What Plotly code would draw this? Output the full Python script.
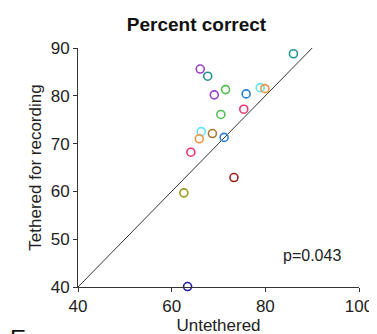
import plotly.graph_objects as go

untethered = [86.0, 66.1, 67.7, 71.5, 69.1, 75.9, 78.9, 79.9, 75.4, 70.5, 66.3, 65.9, 68.7, 71.2, 64.1, 62.6, 73.3, 63.4]
tethered   = [88.8, 85.6, 84.1, 81.3, 80.2, 80.4, 81.7, 81.5, 77.2, 76.1, 72.5, 71.0, 72.1, 71.3, 68.2, 59.7, 62.9, 40.1]
colors = ["#229999", "#9b3fc6", "#1f8f8f", "#4fbf4f", "#9b3fc6", "#2a80d8", "#5fe6f0", "#f5903f",
          "#e8356a", "#4fbf4f", "#5fe6f0", "#f5903f", "#a8742e", "#2a80d8", "#e8356a", "#9a9a1e",
          "#a01c1c", "#1c1ca0"]
x_ticks = [40, 60, 80, 100]
y_ticks = [40, 50, 60, 70, 80, 90]
unity = [40, 90]

FONT = "Liberation Sans, Arial, sans-serif"

fig = go.Figure()
fig.add_trace(go.Scatter(x=unity, y=unity, mode="lines",
                         line=dict(color="#333333", width=1), hoverinfo="skip", showlegend=False))
fig.add_trace(go.Scatter(x=untethered, y=tethered, mode="markers",
                         marker=dict(symbol="circle-open", size=8, color=colors, line=dict(width=1.6)),
                         cliponaxis=False, showlegend=False))

fig.update_layout(
    width=377, height=334,
    margin=dict(l=70, r=17, t=40, b=54),
    paper_bgcolor="white", plot_bgcolor="white",
    font=dict(family=FONT, size=17, color="#222222"),
    title=dict(text="<b>Percent correct</b>", x=0.5, xanchor="center", y=1 - 16/334, yanchor="middle",
               font=dict(family=FONT, size=19, color="#111111")),
    xaxis=dict(range=[40, 100], tickvals=x_ticks, ticks="outside", ticklen=4, tickcolor="#333333",
               showline=True, linecolor="#333333", linewidth=1, showgrid=False, zeroline=False,
               title=dict(text="Untethered", standoff=2, font=dict(size=17)), tickfont=dict(size=17)),
    yaxis=dict(range=[40, 90], tickvals=y_ticks, ticks="outside", ticklen=4, tickcolor="#333333",
               showline=True, linecolor="#333333", linewidth=1, showgrid=False, zeroline=False,
               title=dict(text="Tethered for recording", standoff=4, font=dict(size=17)), tickfont=dict(size=17)),
    annotations=[
        dict(text="p=0.043", x=96.5, y=46.5, xref="x", yref="y", xanchor="right", yanchor="middle",
             showarrow=False, font=dict(size=16, color="#222222")),
        dict(text="E", x=0, y=(280 - 316) / 240, xref="paper", yref="paper", xanchor="left", yanchor="top",
             xshift=-70, showarrow=False, font=dict(size=24, color="#111111")),
    ],
)
fig.write_html("out.html")
